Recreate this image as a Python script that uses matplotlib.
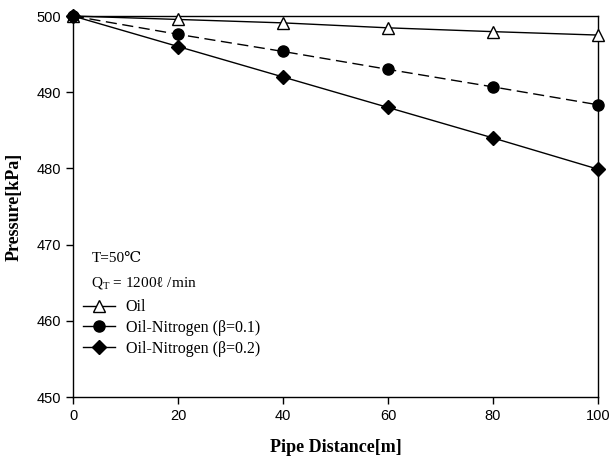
import matplotlib
matplotlib.use("Agg")
import matplotlib.pyplot as plt
from matplotlib.lines import Line2D

distance = [0, 20, 40, 60, 80, 100]
oil = [500, 499.55, 499.1, 498.45, 497.95, 497.5]
oil_n01 = [500, 497.6, 495.35, 493.0, 490.7, 488.35]
oil_n02 = [500, 496.0, 492.0, 488.0, 484.0, 479.9]

serif = "Liberation Serif"
sans = "Liberation Sans"
plt.rcParams["mathtext.fontset"] = "custom"
plt.rcParams["mathtext.rm"] = serif

fig = plt.figure(figsize=(6.11, 4.63), dpi=100)
ax = fig.add_axes([0.1195, 0.1425, 0.8592, 0.8229])

ax.plot(distance, oil, color="black", lw=1, marker="^", ms=8,
        mfc="white", mec="black", mew=1, clip_on=False, zorder=3)
ax.plot(distance, oil_n01, color="black", lw=1, ls=(0, (8, 4)), marker="o",
        ms=8, mfc="black", mec="black", clip_on=False, zorder=3)
ax.plot(distance, oil_n02, color="black", lw=1, marker="D", ms=7.5,
        mfc="black", mec="black", clip_on=False, zorder=3)

ax.set_xlim(0, 100)
ax.set_ylim(450, 500)
ax.set_xticks(range(0, 101, 20))
ax.set_yticks(range(450, 501, 10))
ax.tick_params(direction="out", length=5, width=1, labelsize=10.5,
               top=False, right=False)
for lbl in ax.get_xticklabels() + ax.get_yticklabels():
    lbl.set_family(sans)
for s in ax.spines.values():
    s.set_linewidth(1)

ax.set_xlabel("Pipe Distance[m]", family=serif, fontweight="bold",
              fontsize=13, labelpad=12)
ax.set_ylabel("Pressure[kPa]", family=serif, fontweight="bold",
              fontsize=13, labelpad=10)

# condition text
ax.text(0.035, 0.363, "T=50\u2103", transform=ax.transAxes,
        family=[serif, "DejaVu Serif", "DejaVu Sans"], fontsize=11, va="center")
ax.text(0.035, 0.298, "Q$_\\mathrm{T}$ = 1200\u2113 /min", transform=ax.transAxes,
        family=[serif, "DejaVu Serif"], fontsize=11, va="center")

handles = [
    Line2D([], [], color="black", lw=1, marker="^", ms=8, mfc="white", mec="black"),
    Line2D([], [], color="black", lw=1, marker="o", ms=8, mfc="black"),
    Line2D([], [], color="black", lw=1, marker="D", ms=7.5, mfc="black"),
]
labels = ["Oil", "Oil-Nitrogen (\u03b2=0.1)", "Oil-Nitrogen (\u03b2=0.2)"]
ax.legend(handles, labels, loc="upper left", bbox_to_anchor=(0.0, 0.282),
          frameon=False, prop={"family": serif, "size": 11.5},
          handlelength=2.0, handletextpad=0.7, labelspacing=0.3,
          borderaxespad=0.2)

fig.savefig("out.png", dpi=100)
